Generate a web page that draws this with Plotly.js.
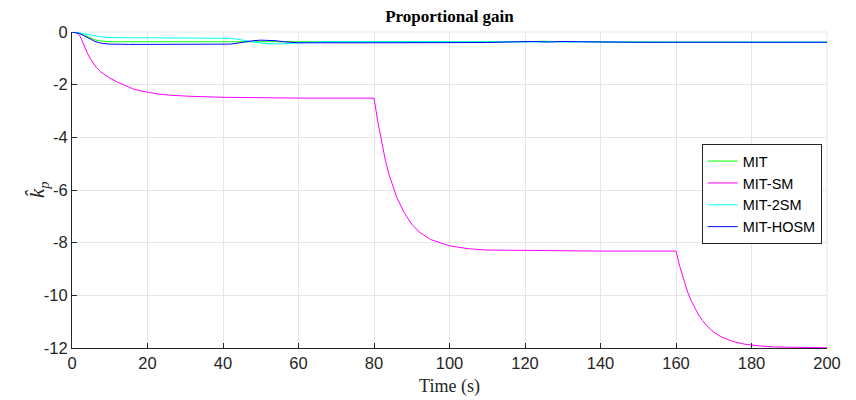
<!DOCTYPE html>
<html>
<head>
<meta charset="utf-8">
<script src="https://cdn.plot.ly/plotly-3.0.1.min.js"></script>
<style>html,body{margin:0;padding:0;background:#fff;}#chart{width:856px;height:400px;}</style>
</head>
<body>
<div id="chart"></div>
<script>
// MIT (green)
const tMIT = [0,1,2,3,4,5,6,7,8,10,12,15,20,40,50,60,80,100,120,125,130,135,140,160,180,200];
const kMIT = [0,-0.01,-0.04,-0.1,-0.17,-0.24,-0.29,-0.33,-0.35,-0.37,-0.37,-0.37,-0.37,-0.37,-0.37,-0.38,-0.39,-0.39,-0.37,-0.35,-0.37,-0.36,-0.38,-0.39,-0.39,-0.39];

// MIT-SM (magenta)
const tSM = [0,1,1.5,2,2.5,3,3.5,4,4.8,5.5,6.5,7.5,8.5,10,12,14,16,18,20.7,23,26,31,40,50,60,70,80,
             81,82,83,84,85,86,88,90,92,95,100,105,110,120,130,140,150,160,
             161,162,163,164,165,166,167,168,170,172,175,178,182,186,190,195,200];
const kSM = [0,-0.02,-0.06,-0.12,-0.28,-0.47,-0.63,-0.78,-1.0,-1.15,-1.36,-1.5,-1.6,-1.75,-1.9,-2.03,-2.15,-2.23,-2.31,-2.36,-2.4,-2.44,-2.48,-2.5,-2.51,-2.51,-2.51,
             -3.4,-4.2,-4.87,-5.42,-5.88,-6.27,-6.86,-7.3,-7.6,-7.88,-8.12,-8.23,-8.28,-8.3,-8.31,-8.32,-8.32,-8.32,
             -8.9,-9.4,-9.84,-10.2,-10.5,-10.75,-10.95,-11.13,-11.4,-11.58,-11.75,-11.85,-11.92,-11.96,-11.97,-11.98,-11.99];

// MIT-2SM (cyan)
const t2SM = [0,1,2,3,4,5,6,8,10,12,15,20,30,40,42,44,46,48,50,52,54,56,58,60,65,70,80,100,120,130,140,160,200];
const k2SM = [0,-0.01,-0.03,-0.06,-0.09,-0.12,-0.15,-0.19,-0.21,-0.22,-0.22,-0.22,-0.22,-0.22,-0.24,-0.28,-0.33,-0.38,-0.42,-0.45,-0.46,-0.45,-0.43,-0.41,-0.38,-0.37,-0.37,-0.38,-0.38,-0.38,-0.39,-0.39,-0.39];

// MIT-HOSM (blue)
const tHOSM = [0,1,2,3,4,5,6,7,8,10,12,15,20,30,40,42,44,46,48,50,52,54,56,58,60,80,100,110,118,122,126,130,134,138,142,150,170,200];
const kHOSM = [0,-0.02,-0.06,-0.13,-0.21,-0.29,-0.35,-0.4,-0.43,-0.46,-0.47,-0.47,-0.47,-0.47,-0.47,-0.46,-0.42,-0.37,-0.33,-0.31,-0.31,-0.33,-0.37,-0.4,-0.41,-0.41,-0.41,-0.4,-0.37,-0.36,-0.38,-0.36,-0.37,-0.38,-0.39,-0.39,-0.39,-0.39];

const seriesNames = ['MIT','MIT-SM','MIT-2SM','MIT-HOSM'];
const seriesColors = ['#00ff00','#ff00ff','#00ffff','#0000ff'];

const xTickVals = [0,20,40,60,80,100,120,140,160,180,200];
const xTickText = ['0','20','40','60','80','100','120','140','160','180','200'];
const yTickVals = [0,-2,-4,-6,-8,-10,-12];
const yTickText = ['0','-2','-4','-6','-8','-10','-12'];

const xs = [tMIT, tSM, t2SM, tHOSM];
const ys = [kMIT, kSM, k2SM, kHOSM];
const traces = xs.map((x, i) => ({
  x: x, y: ys[i], type: 'scatter', mode: 'lines', name: seriesNames[i],
  line: {color: seriesColors[i], width: 1, shape: 'linear'}
}));

const sans = 'Liberation Sans, Arial, Helvetica, sans-serif';
const serif = 'Liberation Serif, Times New Roman, serif';

const layout = {
  width: 856, height: 400,
  margin: {l: 72, r: 29, t: 32, b: 52, pad: 0},
  paper_bgcolor: '#ffffff', plot_bgcolor: '#ffffff',
  showlegend: true,
  title: {text: '<b>Proportional gain</b>', font: {family: serif, size: 17, color: '#000'},
          x: 0.5, xref: 'paper', xanchor: 'center', y: 1 - 16/400, yref: 'container', yanchor: 'middle'},
  xaxis: {
    range: [0, 200], tickvals: xTickVals, ticktext: xTickText,
    ticks: 'inside', ticklen: 5, tickcolor: '#262626', tickwidth: 1,
    showline: true, linecolor: '#262626', linewidth: 1, mirror: false,
    showgrid: true, gridcolor: '#e6e6e6', gridwidth: 1, zeroline: false,
    tickfont: {family: sans, size: 16.5, color: '#262626'},
    title: {text: 'Time (s)', font: {family: serif, size: 18, color: '#262626'}, standoff: 8},
    automargin: false, fixedrange: true
  },
  yaxis: {
    range: [-12, 0], tickvals: yTickVals, ticktext: yTickText,
    ticks: 'inside', ticklen: 5, tickcolor: '#262626', tickwidth: 1,
    showline: true, linecolor: '#262626', linewidth: 1, mirror: false,
    showgrid: true, gridcolor: '#e6e6e6', gridwidth: 1, zeroline: false,
    tickfont: {family: sans, size: 16.5, color: '#262626'},
    automargin: false, fixedrange: true
  },
  annotations: [
    {text: '<i>k̂</i><sub><i>p</i></sub>', xref: 'paper', yref: 'paper', x: (38 - 72) / 755, y: 0.5,
     xanchor: 'center', yanchor: 'middle', textangle: -90, showarrow: false,
     font: {family: serif, size: 21, color: '#262626'}}
  ],
  legend: {
    x: 0.834, y: 0.645, xanchor: 'left', yanchor: 'top',
    bgcolor: '#ffffff', bordercolor: '#262626', borderwidth: 1,
    font: {family: sans, size: 14.5, color: '#000'},
    tracegroupgap: 0, itemwidth: 30
  },
  shapes: [
    {type: 'line', xref: 'paper', yref: 'paper', x0: 0, x1: 1, y0: 1, y1: 1, line: {color: '#e6e6e6', width: 1}, layer: 'below'},
    {type: 'line', xref: 'paper', yref: 'paper', x0: 1, x1: 1, y0: 0, y1: 1, line: {color: '#e6e6e6', width: 1}, layer: 'below'}
  ]
};

Plotly.newPlot('chart', traces, layout, {staticPlot: true, displayModeBar: false});
</script>
</body>
</html>
